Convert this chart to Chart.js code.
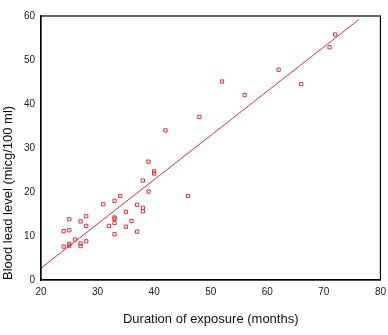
<!DOCTYPE html>
<html>
<head>
<meta charset="utf-8">
<script src="https://cdn.jsdelivr.net/npm/chart.js@4/dist/chart.umd.min.js"></script>
<style>
  html, body { margin: 0; padding: 0; background: #fff; }
  #wrap { width: 388px; height: 335px; position: relative; }
</style>
</head>
<body>
<div id="wrap"><canvas id="c" width="388" height="335"></canvas></div>
<script>
// Exposure duration (months) for each worker
const months = [24, 24, 25, 25, 25, 25, 26, 27, 27, 27, 28, 28, 28,
  31, 32, 33, 33, 33, 33, 33, 34, 35, 35, 36, 37, 37, 38, 38, 38,
  39, 39, 40, 40, 42, 46, 48, 52, 56, 62, 66, 71, 72];
// Blood lead level (micg/100 ml) for each worker
const leadLevel = [11.1, 7.6, 13.8, 11.3, 8.2, 7.8, 9.2, 13.3, 8.3, 7.7, 14.5, 12.3, 8.8,
  17.2, 12.3, 18.0, 14.2, 13.9, 13.0, 10.4, 19.1, 15.5, 12.1, 13.4, 17.1, 11.0, 22.6, 16.4, 15.6,
  26.9, 20.1, 24.7, 24.2, 34.0, 19.1, 37.1, 45.1, 42.0, 47.8, 44.5, 52.9, 55.8];
// Fitted regression line end points
const fitX = [20, 76.2];
const fitY = [2.7, 59.2];
// Axis ticks
const xTicks = [20, 30, 40, 50, 60, 70, 80];
const yTicks = [0, 10, 20, 30, 40, 50, 60];

const red = '#e0303c';
const points = months.map((m, i) => ({ x: m, y: leadLevel[i] }));
const fit = fitX.map((x, i) => ({ x: x, y: fitY[i] }));

const frame = {
  id: 'frame',
  afterDatasetsDraw(chart) {
    const a = chart.chartArea, ctx = chart.ctx;
    ctx.save();
    ctx.strokeStyle = '#000';
    ctx.lineWidth = 1.2;
    ctx.strokeRect(a.left, a.top, a.right - a.left, a.bottom - a.top);
    ctx.restore();
  }
};

new Chart(document.getElementById('c'), {
  type: 'scatter',
  data: {
    datasets: [
      {
        data: points,
        pointStyle: 'rect',
        pointRadius: 2.3,
        pointBorderWidth: 1,
        borderColor: red,
        backgroundColor: 'rgba(0,0,0,0)',
        showLine: false
      },
      {
        data: fit,
        type: 'line',
        showLine: true,
        pointRadius: 0,
        borderColor: red,
        borderWidth: 1,
        fill: false
      }
    ]
  },
  options: {
    responsive: false,
    animation: false,
    devicePixelRatio: 1,
    layout: { padding: { top: 16, right: 6, left: 0, bottom: 0 } },
    plugins: { legend: { display: false }, tooltip: { enabled: false } },
    scales: {
      x: {
        type: 'linear',
        min: 20, max: 80,
        afterBuildTicks: s => { s.ticks = xTicks.map(v => ({ value: v })); },
        afterFit: s => { s.height = 55; },
        grid: { display: false, drawTicks: true, tickLength: 4, tickColor: '#000' },
        border: { display: true, color: '#000', width: 1.2 },
        ticks: { color: '#222', font: { family: 'Liberation Sans', size: 10 }, padding: 2, maxRotation: 0 },
        title: { display: true, text: 'Duration of exposure (months)', color: '#111',
          font: { family: 'Liberation Sans', size: 13 }, padding: { top: 0, bottom: 8 } }
      },
      y: {
        type: 'linear',
        min: 0, max: 60,
        afterBuildTicks: s => { s.ticks = yTicks.map(v => ({ value: v })); },
        afterFit: s => { s.width = 41; },
        grid: { display: false, drawTicks: true, tickLength: 4, tickColor: '#000' },
        border: { display: true, color: '#000', width: 1.2 },
        ticks: { color: '#222', font: { family: 'Liberation Sans', size: 10 }, padding: 2 },
        title: { display: true, text: 'Blood lead level (micg/100 ml)', color: '#111', align: 'start',
          font: { family: 'Liberation Sans', size: 13 }, padding: { top: 1, bottom: 0 } }
      }
    }
  },
  plugins: [frame]
});
</script>
</body>
</html>
